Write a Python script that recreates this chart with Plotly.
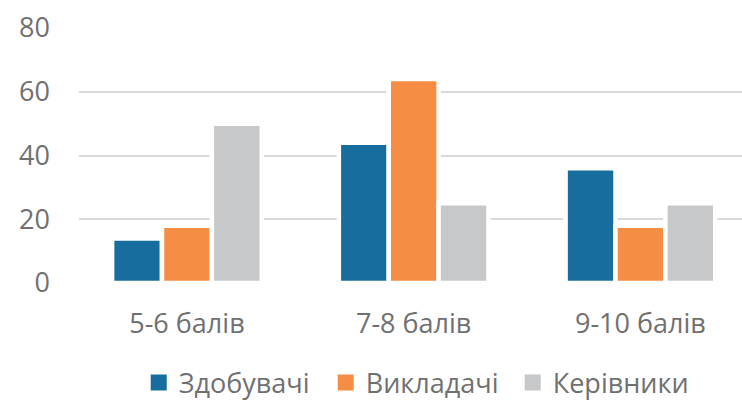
import plotly.graph_objects as go

# Score bands and share of respondents (%) in each group
categories = ["5-6 балів", "7-8 балів", "9-10 балів"]
series_names = ["Здобувачі", "Викладачі", "Керівники"]
zdobuvachi = [14, 44, 36]
vykladachi = [18, 64, 18]
kerivnyky = [50, 25, 25]
series_values = [zdobuvachi, vykladachi, kerivnyky]
colors = ["#176E9E", "#F58D45", "#C7C8CA"]
y_ticks = [0, 20, 40, 60, 80]

FONT = "Open Sans"
TEXT_GREY = "#707070"

fig = go.Figure()
for name, vals, col in zip(series_names, series_values, colors):
    fig.add_trace(go.Bar(
        x=categories, y=vals, name=name, showlegend=False,
        marker=dict(color=col, line=dict(color="white", width=4.5)),
    ))
    # legend swatch as a larger square
    fig.add_trace(go.Scatter(
        x=[None], y=[None], mode="markers", name=name,
        marker=dict(symbol="square", size=16, color=col),
    ))

fig.update_layout(
    width=742, height=403,
    margin=dict(l=79, r=0, t=28, b=119.5, autoexpand=False),
    paper_bgcolor="white", plot_bgcolor="white",
    barmode="group", bargap=0.34, bargroupgap=0,
    font=dict(family=FONT, size=27, color=TEXT_GREY),
    legend=dict(
        orientation="h", xref="container", yref="container",
        x=0.565, xanchor="center", y=0.05, yanchor="middle",
        font=dict(size=27, color=TEXT_GREY),
        itemwidth=30, entrywidth=142, entrywidthmode="pixels",
    ),
)
fig.update_xaxes(
    type="category", range=[-0.476, 2.448],
    showgrid=False, zeroline=False, showline=False,
    ticks="", ticklabelstandoff=22,
)
fig.update_yaxes(
    range=[0, 80], tickvals=y_ticks,
    showgrid=True, gridcolor="#D9D9D9", gridwidth=2.2,
    zeroline=False, showline=False, ticks="", ticklabelstandoff=28,
)

fig.write_html("out.html")
